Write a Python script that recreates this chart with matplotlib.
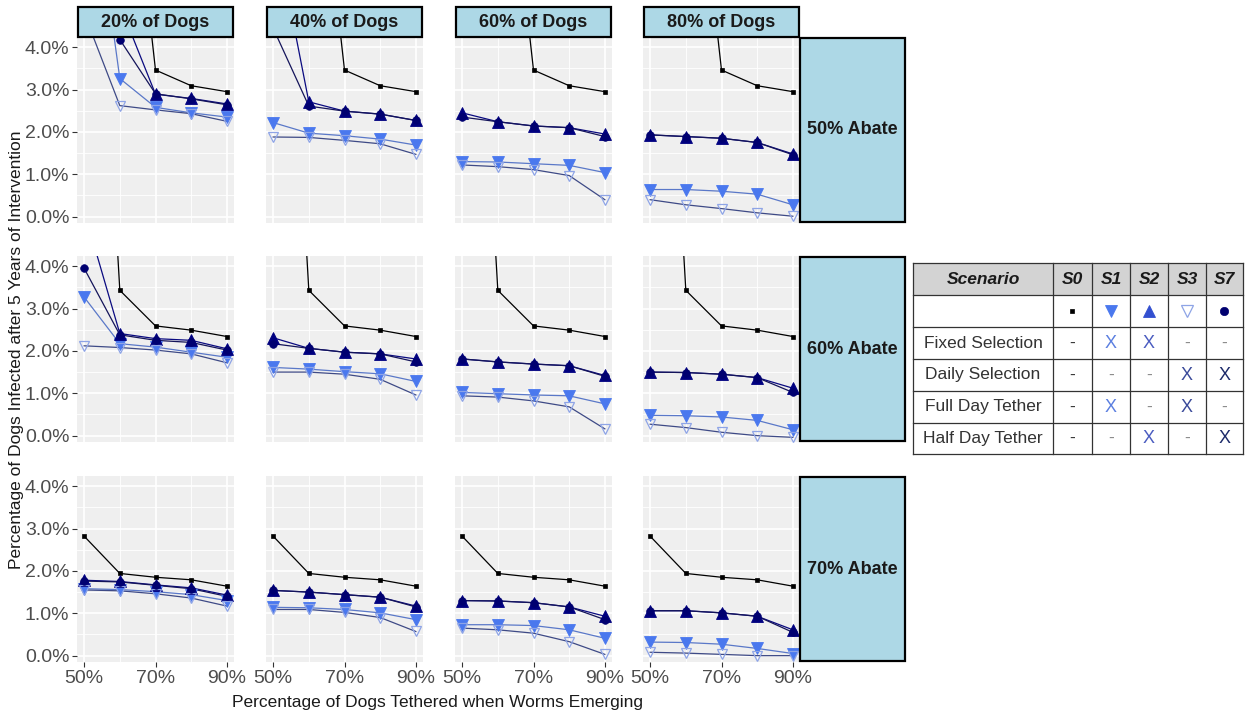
import matplotlib
matplotlib.use('Agg')
import matplotlib.pyplot as plt
from matplotlib.patches import Rectangle

plt.rcParams['font.family'] = ['Liberation Sans', 'DejaVu Sans']

# ---------------- data ----------------
tether_pct = [50, 60, 70, 80, 90]
dog_labels = ['20% of Dogs', '40% of Dogs', '60% of Dogs', '80% of Dogs']
abate_labels = ['50% Abate', '60% Abate', '70% Abate']
x_tick_values = [50, 70, 90]
x_tick_labels = ['50%', '70%', '90%']
y_tick_values = [0, 1, 2, 3, 4]
y_tick_labels = ['0.0%', '1.0%', '2.0%', '3.0%', '4.0%']

# S0 does not depend on % of dogs (one list per abate row)
s0 = [
    [20.0, 11.0, 3.46, 3.09, 2.95],
    [18.0, 3.43, 2.59, 2.49, 2.34],
    [2.82, 1.94, 1.85, 1.79, 1.64],
]
# [abate row][dog column] -> values at tether_pct
s1 = [
    [[9.4, 3.26, 2.58, 2.45, 2.35], [2.22, 1.97, 1.91, 1.83, 1.69],
     [1.30, 1.29, 1.25, 1.21, 1.04], [0.64, 0.64, 0.60, 0.53, 0.28]],
    [[3.27, 2.17, 2.09, 1.97, 1.85], [1.61, 1.57, 1.51, 1.46, 1.28],
     [1.02, 0.99, 0.96, 0.94, 0.75], [0.48, 0.47, 0.44, 0.36, 0.14]],
    [[1.58, 1.56, 1.51, 1.44, 1.30], [1.14, 1.13, 1.09, 1.01, 0.85],
     [0.73, 0.73, 0.71, 0.61, 0.41], [0.32, 0.31, 0.27, 0.17, 0.05]],
]
s2 = [
    [[12.0, 5.0, 2.89, 2.79, 2.66], [7.0, 2.71, 2.49, 2.42, 2.27],
     [2.45, 2.24, 2.14, 2.10, 1.95], [1.93, 1.89, 1.85, 1.75, 1.48]],
    [[5.3, 2.41, 2.29, 2.25, 2.05], [2.31, 2.06, 1.97, 1.93, 1.81],
     [1.81, 1.74, 1.69, 1.65, 1.42], [1.50, 1.49, 1.45, 1.37, 1.12]],
    [[1.78, 1.75, 1.67, 1.60, 1.43], [1.54, 1.50, 1.44, 1.38, 1.17],
     [1.30, 1.29, 1.25, 1.15, 0.93], [1.06, 1.06, 1.01, 0.93, 0.61]],
]
s3 = [
    [[4.8, 2.62, 2.52, 2.43, 2.25], [1.88, 1.87, 1.80, 1.72, 1.47],
     [1.22, 1.18, 1.11, 0.97, 0.40], [0.40, 0.28, 0.19, 0.09, 0.01]],
    [[2.12, 2.08, 2.02, 1.93, 1.72], [1.50, 1.50, 1.45, 1.33, 0.96],
     [0.94, 0.91, 0.82, 0.68, 0.16], [0.27, 0.19, 0.08, 0.00, -0.04]],
    [[1.55, 1.53, 1.46, 1.36, 1.17], [1.09, 1.09, 1.02, 0.90, 0.57],
     [0.65, 0.61, 0.53, 0.33, 0.03], [0.08, 0.06, 0.03, 0.00, 0.00]],
]
s7 = [
    [[10.0, 4.18, 2.90, 2.78, 2.64], [4.45, 2.61, 2.49, 2.42, 2.27],
     [2.35, 2.24, 2.14, 2.10, 1.89], [1.93, 1.89, 1.85, 1.75, 1.46]],
    [[3.95, 2.38, 2.25, 2.20, 2.02], [2.17, 2.06, 1.97, 1.93, 1.74],
     [1.81, 1.74, 1.69, 1.65, 1.40], [1.50, 1.49, 1.45, 1.37, 1.02]],
    [[1.76, 1.74, 1.66, 1.58, 1.40], [1.54, 1.50, 1.44, 1.38, 1.15],
     [1.30, 1.29, 1.25, 1.15, 0.85], [1.06, 1.06, 1.01, 0.93, 0.55]],
]

scenario_names = ['S0', 'S1', 'S2', 'S3', 'S7']
table_rows = ['Fixed Selection', 'Daily Selection', 'Full Day Tether', 'Half Day Tether']
table_marks = [
    ['-', 'X', 'X', '-', '-'],
    ['-', '-', '-', 'X', 'X'],
    ['-', 'X', '-', 'X', '-'],
    ['-', '-', 'X', '-', 'X'],
]

# ---------------- styles ----------------
styles = {
    'S0': dict(line='#000000', marker='s', ms=2.6, mfc='#000000', mec='#000000', mew=0.5),
    'S1': dict(line='#5a78c8', marker='v', ms=8, mfc='#4a78ee', mec='#4a78ee', mew=0.6),
    'S2': dict(line='#0a0a80', marker='^', ms=8, mfc='#000080', mec='#000080', mew=0.6),
    'S3': dict(line='#3e4a86', marker='v', ms=7.5, mfc='none', mec='#8ea4e6', mew=0.9),
    'S7': dict(line='#14145a', marker='o', ms=5.5, mfc='#000070', mec='#000070', mew=0.5),
}
x_mark_colors = ['#222222', '#5b7fe0', '#4a5cc0', '#3a4a9a', '#1c2a6a']
dash_colors = ['#333333', '#888888', '#888888', '#888888', '#888888']

W, H = 1249, 712
fig = plt.figure(figsize=(W / 100, H / 100), dpi=100)


def px_axes(left, top, width, height, **kw):
    return fig.add_axes([left / W, 1 - (top + height) / H, width / W, height / H], **kw)


col_left = [77, 266, 455, 643]
col_w = 157
row_top = [37, 256, 476]
row_h = 186
strip_fc = '#ADD8E6'

for r in range(3):
    for c in range(4):
        ax = px_axes(col_left[c], row_top[r], col_w, row_h)
        ax.set_facecolor('#EFEFEF')
        for sp in ax.spines.values():
            sp.set_visible(False)
        ax.set_xlim(48, 92)
        ax.set_ylim(-0.15, 4.24)
        ax.set_xticks(x_tick_values)
        ax.set_xticks([60, 80], minor=True)
        ax.set_yticks(y_tick_values)
        ax.set_yticks([0.5, 1.5, 2.5, 3.5], minor=True)
        ax.grid(True, which='major', color='white', lw=1.2)
        ax.grid(True, which='minor', color='white', lw=0.6)
        ax.set_axisbelow(True)
        ax.tick_params(which='minor', length=0)
        ax.tick_params(which='major', length=3.5, width=0.8, color='#333333',
                       labelsize=14, labelcolor='#4D4D4D', pad=2)
        if c == 0:
            ax.set_yticklabels(y_tick_labels)
        else:
            ax.tick_params(axis='y', length=0, labelleft=False)
        if r == 2:
            ax.set_xticklabels(x_tick_labels)
        else:
            ax.tick_params(axis='x', length=0, labelbottom=False)

        series = {'S0': s0[r], 'S1': s1[r][c], 'S2': s2[r][c], 'S3': s3[r][c], 'S7': s7[r][c]}
        for name in scenario_names:
            st = styles[name]
            ax.plot(tether_pct, series[name], color=st['line'], lw=0.9, zorder=3)
        for name in scenario_names:
            st = styles[name]
            ax.plot(tether_pct, series[name], ls='none', marker=st['marker'], ms=st['ms'],
                    mfc=st['mfc'], mec=st['mec'], mew=st['mew'], zorder=4)

# overlay in pixel coordinates for strips and table
ov = fig.add_axes([0, 0, 1, 1], zorder=10)
ov.set_xlim(0, W)
ov.set_ylim(H, 0)
ov.axis('off')
ov.patch.set_alpha(0)

for c in range(4):
    ov.add_patch(Rectangle((col_left[c] + 1, 7), col_w - 2, 30, fc=strip_fc, ec='black', lw=1.6))
    ov.text(col_left[c] + col_w / 2, 22.5, dog_labels[c], ha='center', va='center',
            fontsize=13, fontweight='bold', color='#1a1a1a')
for r in range(3):
    ov.add_patch(Rectangle((800, row_top[r] + 1), 105, row_h - 2, fc=strip_fc, ec='black', lw=1.6))
    ov.text(852.5, row_top[r] + row_h / 2, abate_labels[r], ha='center', va='center',
            fontsize=13, fontweight='bold', color='#1a1a1a')

# axis titles
fig.text(438 / W, 1 - 702 / H, 'Percentage of Dogs Tethered when Worms Emerging',
         ha='center', va='center', fontsize=12.5, color='#1a1a1a')
fig.text(17 / W, 1 - 350 / H, 'Percentage of Dogs Infected after 5 Years of Intervention',
         ha='center', va='center', rotation=90, fontsize=12.5, color='#1a1a1a')

# ---------------- table ----------------
tx = [913, 1053, 1092, 1130, 1168, 1206, 1243]
ty = [263, 295, 327, 359, 391, 423, 454]
ov.add_patch(Rectangle((tx[0], ty[0]), tx[-1] - tx[0], ty[1] - ty[0], fc='#D3D3D3', ec='none'))
for xv in tx:
    ov.plot([xv, xv], [ty[0], ty[-1]], color='#333333', lw=0.9)
for yv in ty:
    ov.plot([tx[0], tx[-1]], [yv, yv], color='#333333', lw=0.9)

ov.text((tx[0] + tx[1]) / 2, (ty[0] + ty[1]) / 2, 'Scenario', ha='center', va='center',
        fontsize=12.5, fontweight='bold', fontstyle='italic', color='#1a1a1a')
for j, name in enumerate(scenario_names):
    cx = (tx[j + 1] + tx[j + 2]) / 2
    ov.text(cx, (ty[0] + ty[1]) / 2, name, ha='center', va='center',
            fontsize=12.5, fontweight='bold', fontstyle='italic', color='#1a1a1a')
    st = styles[name]
    ms = {'S0': 3.0, 'S1': 9, 'S2': 9, 'S3': 8, 'S7': 6}[name]
    fc = {'S2': '#3350d0'}.get(name, st['mfc'])
    ec = {'S2': '#3350d0'}.get(name, st['mec'])
    ov.plot([cx], [(ty[1] + ty[2]) / 2], ls='none', marker=st['marker'], ms=ms,
            mfc=fc, mec=ec, mew=st['mew'])

for i, label in enumerate(table_rows):
    cy = (ty[i + 2] + ty[i + 3]) / 2
    ov.text((tx[0] + tx[1]) / 2, cy, label, ha='center', va='center',
            fontsize=12.5, color='#333333')
    for j in range(5):
        cx = (tx[j + 1] + tx[j + 2]) / 2
        m = table_marks[i][j]
        if m == 'X':
            ov.text(cx, cy, 'X', ha='center', va='center', fontsize=13, color=x_mark_colors[j])
        else:
            ov.text(cx, cy, '-', ha='center', va='center', fontsize=12.5, color=dash_colors[j])

fig.savefig('out.png', dpi=100)
